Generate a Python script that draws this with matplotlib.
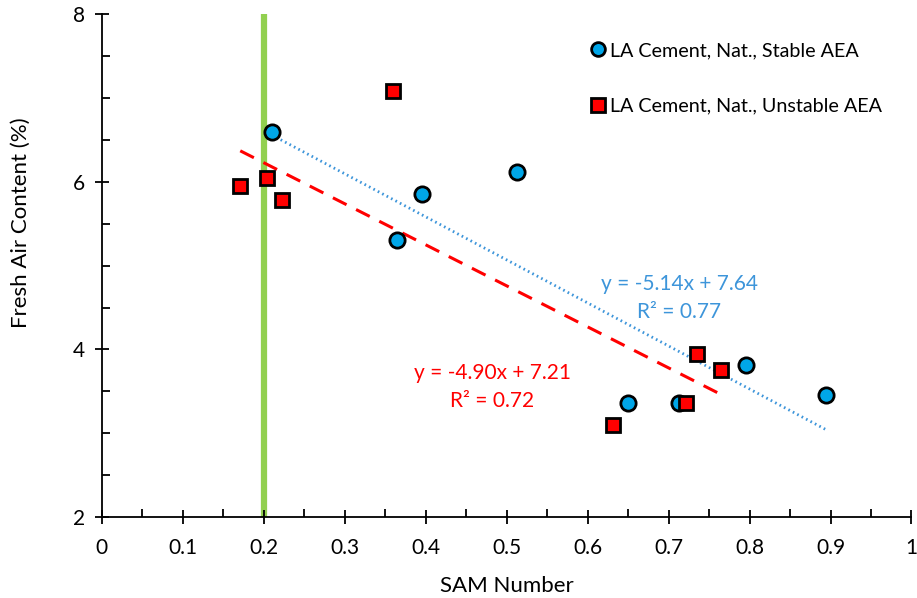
import numpy as np
import matplotlib
matplotlib.use("Agg")
import matplotlib.pyplot as plt
from matplotlib.ticker import MultipleLocator, FuncFormatter

plt.rcParams['font.family'] = ['Lato', 'DejaVu Sans']

# stable AEA (blue circles)
stable_x = [0.210, 0.365, 0.395, 0.513, 0.650, 0.713, 0.795, 0.895]
stable_y = [6.60, 5.31, 5.86, 6.12, 3.36, 3.36, 3.82, 3.46]
# unstable AEA (red squares)
unstable_x = [0.171, 0.204, 0.222, 0.360, 0.631, 0.721, 0.735, 0.765]
unstable_y = [5.95, 6.05, 5.79, 7.09, 3.10, 3.36, 3.95, 3.75]

# trendline coefficients as printed on the chart
stable_fit = (-5.14, 7.64, 0.77)
unstable_fit = (-4.90, 7.21, 0.72)

sam_limit = 0.2

blue = '#00A6E8'
blue_line = '#3D95DA'
red = '#FF0000'
green = '#92D050'

fig = plt.figure(figsize=(9.17, 5.98), dpi=100)
ax = fig.add_axes([0.111, 0.1355, 0.883, 0.8403])

ax.plot([sam_limit, sam_limit], [2, 8], color=green, lw=4.5, zorder=1)

# trendlines over data range
xs = np.array([min(stable_x), max(stable_x)])
ax.plot(xs, stable_fit[0] * xs + stable_fit[1], color=blue_line, lw=2,
        linestyle=(0, (0.6, 1.2)), zorder=2)
xu = np.array([min(unstable_x), max(unstable_x)])
ax.plot(xu, unstable_fit[0] * xu + unstable_fit[1], color=red, lw=2.2,
        linestyle=(0, (5, 3.5)), zorder=2)

ax.plot(stable_x, stable_y, 'o', ms=11, mfc=blue, mec='black', mew=2,
        label='LA Cement, Nat., Stable AEA', zorder=3)
ax.plot(unstable_x, unstable_y, 's', ms=10.5, mfc=red, mec='black', mew=2,
        label='LA Cement, Nat., Unstable AEA', zorder=4)

ax.text(0.713, 4.78, 'y = %.2fx + %.2f' % stable_fit[:2], color=blue_line,
        fontsize=15, ha='center', va='center')
ax.text(0.713, 4.45, 'R² = %.2f' % stable_fit[2], color=blue_line,
        fontsize=15, ha='center', va='center')
ax.text(0.482, 3.72, 'y = %.2fx + %.2f' % unstable_fit[:2], color=red,
        fontsize=15, ha='center', va='center')
ax.text(0.482, 3.385, 'R² = %.2f' % unstable_fit[2], color=red,
        fontsize=15, ha='center', va='center')

ax.set_xlim(0, 1)
ax.set_ylim(2, 8)
ax.xaxis.set_major_locator(MultipleLocator(0.1))
ax.xaxis.set_minor_locator(MultipleLocator(0.05))
ax.yaxis.set_major_locator(MultipleLocator(2))
ax.yaxis.set_minor_locator(MultipleLocator(0.5))
ax.xaxis.set_major_formatter(FuncFormatter(lambda v, p: '%g' % round(v, 2)))

for s in ['top', 'right']:
    ax.spines[s].set_visible(False)
for s in ['left', 'bottom']:
    ax.spines[s].set_linewidth(1.3)
ax.tick_params(which='major', direction='inout', length=10, width=1.3,
               labelsize=15, pad=7)
ax.tick_params(axis='x', which='major', pad=10)
ax.tick_params(which='minor', direction='in', length=6, width=1.3)

ax.set_xlabel('SAM Number', fontsize=16)
ax.xaxis.set_label_coords(0.5, -0.117)
ax.set_ylabel('Fresh Air Content (%)', fontsize=16)
ax.yaxis.set_label_coords(-0.088, 0.585)

ax.legend(loc='upper left', bbox_to_anchor=(0.58, 0.98), frameon=False,
          fontsize=14.2, labelspacing=1.95, handletextpad=0.15,
          handlelength=0.9, markerscale=0.9)

fig.savefig('out.png', dpi=100)
